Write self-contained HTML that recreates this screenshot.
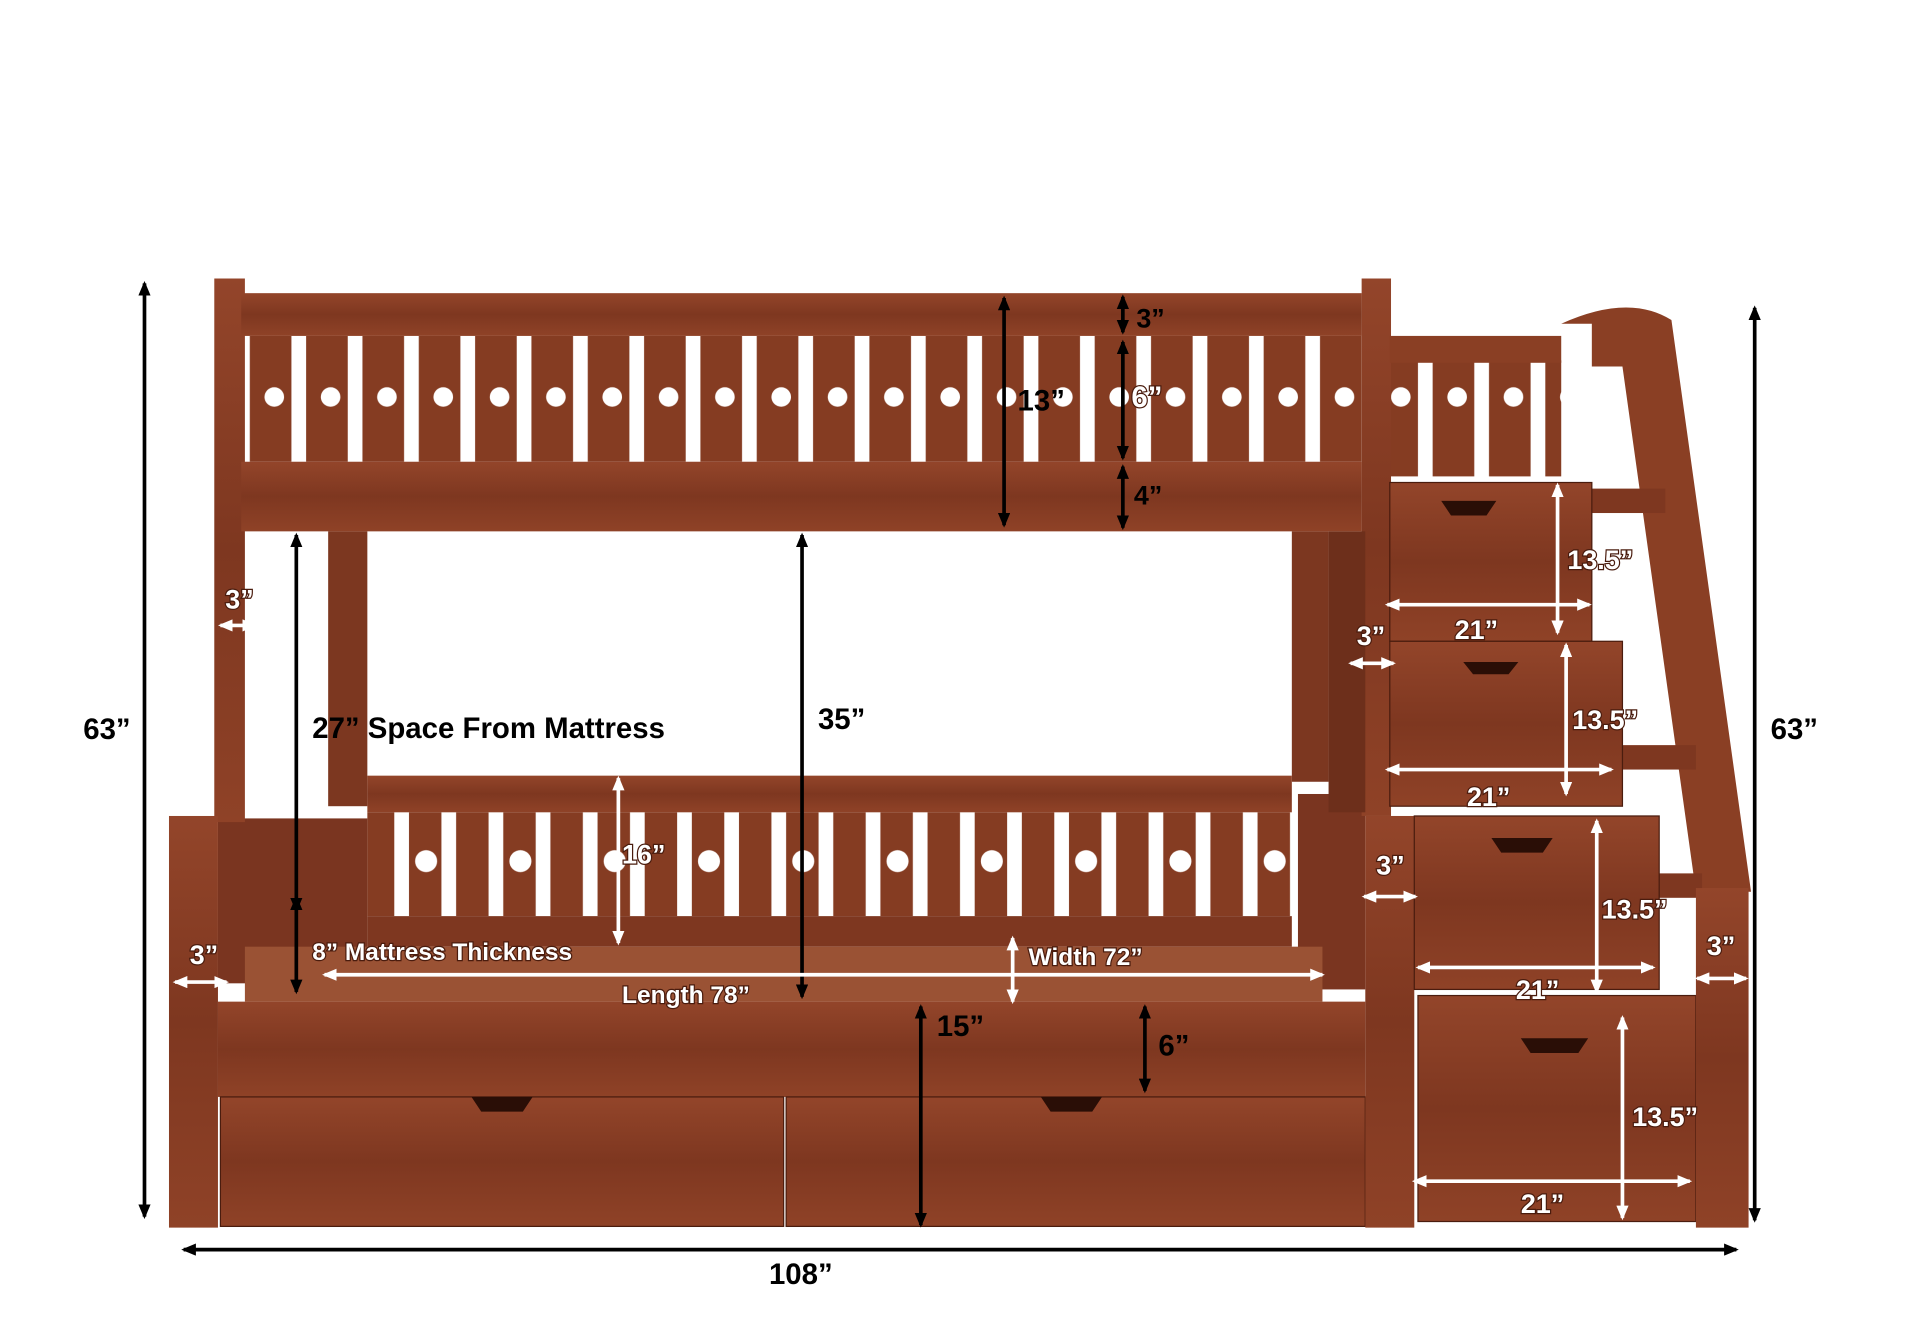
<!DOCTYPE html>
<html><head><meta charset="utf-8"><style>
html,body{margin:0;padding:0;background:#fff;}
svg{display:block;}
text{font-family:"Liberation Sans",sans-serif;font-weight:bold;}
</style></head><body>
<svg width="1920" height="1340" viewBox="0 0 1568 1097" preserveAspectRatio="none" xmlns="http://www.w3.org/2000/svg">
<defs>
<marker id="ab" markerWidth="12" markerHeight="10" refX="10" refY="5" orient="auto-start-reverse" markerUnits="userSpaceOnUse"><path d="M0,0 L12,5 L0,10 z" fill="#000"/></marker>
<marker id="aw" markerWidth="12" markerHeight="10" refX="10" refY="5" orient="auto-start-reverse" markerUnits="userSpaceOnUse"><path d="M0,0 L12,5 L0,10 z" fill="#fff"/></marker>
<linearGradient id="w" x1="0" y1="0" x2="0" y2="1"><stop offset="0" stop-color="#93452a"/><stop offset="0.5" stop-color="#7e3720"/><stop offset="1" stop-color="#8f4227"/></linearGradient>
<pattern id="slU" width="46" height="110" patternUnits="userSpaceOnUse" x="210" y="275"><rect width="46" height="110" fill="#853c22"/><rect x="28" y="0" width="12" height="110" fill="#fff"/><circle cx="14" cy="50" r="8" fill="#fff"/></pattern>
<pattern id="slL" width="38.5" height="90" patternUnits="userSpaceOnUse" x="300" y="665"><rect width="38.5" height="90" fill="#853c22"/><rect x="22" y="0" width="12" height="90" fill="#fff"/></pattern>
<pattern id="slL2" width="77" height="90" patternUnits="userSpaceOnUse" x="300" y="665"><circle cx="48" cy="40" r="9" fill="#fff"/></pattern>
</defs>
<rect width="1568" height="1097" fill="#fff"/>
<rect x="197" y="275" width="915" height="103" fill="url(#slU)"/>
<rect x="1135" y="295" width="140" height="95" fill="url(#slU)"/>
<rect x="300" y="665" width="755" height="85" fill="url(#slL)"/>
<rect x="300" y="665" width="755" height="85" fill="url(#slL2)"/>
<rect x="178" y="670" width="122" height="135" fill="#7a3520"/>
<rect x="1060" y="650" width="55" height="160" fill="#7a3520"/>
<rect x="175" y="228" width="25" height="445" fill="url(#w)"/>
<rect x="1112" y="228" width="24" height="440" fill="url(#w)"/>
<rect x="268" y="435" width="32" height="225" fill="#7c3720"/>
<rect x="1055" y="435" width="30" height="205" fill="#7c3720"/>
<rect x="1085" y="435" width="30" height="230" fill="#6d2f1b"/>
<rect x="197" y="240" width="915" height="35" fill="url(#w)"/>
<rect x="197" y="378" width="915" height="57" fill="url(#w)"/>
<rect x="1135" y="275" width="140" height="22" fill="#8a3f24"/>
<rect x="300" y="635" width="755" height="30" fill="url(#w)"/>
<rect x="300" y="750" width="755" height="25" fill="#7e3720"/>
<rect x="200" y="775" width="880" height="45" fill="#9a5234"/>
<rect x="178" y="820" width="937" height="78" fill="url(#w)"/>
<rect x="180" y="898" width="460" height="106" fill="url(#w)" stroke="#4a1c0e"/>
<rect x="642" y="898" width="473" height="106" fill="url(#w)" stroke="#4a1c0e"/>
<path d="M385,898 h50 l-8,12 h-34z M850,898 h50 l-8,12 h-34z" fill="#2a0e06"/>
<rect x="138" y="668" width="40" height="337" fill="url(#w)"/>
<rect x="1115" y="668" width="40" height="337" fill="url(#w)"/>
<path d="M1275,265 Q1330,240 1365,262 L1430,730 L1385,730 L1325,300 L1300,300 L1300,265z" fill="#8a3f24"/>
<rect x="1300" y="400" width="60" height="20" fill="#7e3720"/>
<rect x="1325" y="610" width="60" height="20" fill="#7e3720"/>
<rect x="1355" y="715" width="35" height="20" fill="#7e3720"/>
<rect x="1135" y="395" width="165" height="130" fill="url(#w)" stroke="#4a1c0e"/>
<rect x="1135" y="525" width="190" height="135" fill="url(#w)" stroke="#4a1c0e"/>
<rect x="1155" y="668" width="200" height="142" fill="url(#w)" stroke="#4a1c0e"/>
<rect x="1158" y="815" width="227" height="185" fill="url(#w)" stroke="#4a1c0e"/>
<rect x="1385" y="727" width="43" height="278" fill="url(#w)"/>
<path d="M1177,410 h45 l-8,12 h-29z M1195,542 h45 l-8,10 h-29z M1218,686 h50 l-8,12 h-34z M1242,850 h55 l-8,12 h-39z" fill="#2a0e06"/>
<g stroke="#000" stroke-width="3" fill="none">
<line x1="118" y1="232" x2="118" y2="996" marker-start="url(#ab)" marker-end="url(#ab)"/>
<line x1="1433" y1="252" x2="1433" y2="999" marker-start="url(#ab)" marker-end="url(#ab)"/>
<line x1="150" y1="1023" x2="1418" y2="1023" marker-start="url(#ab)" marker-end="url(#ab)"/>
<line x1="820" y1="244" x2="820" y2="430" marker-start="url(#ab)" marker-end="url(#ab)"/>
<line x1="917" y1="243" x2="917" y2="272" marker-start="url(#ab)" marker-end="url(#ab)"/>
<line x1="917" y1="280" x2="917" y2="375" marker-start="url(#ab)" marker-end="url(#ab)"/>
<line x1="917" y1="382" x2="917" y2="432" marker-start="url(#ab)" marker-end="url(#ab)"/>
<line x1="242" y1="438" x2="242" y2="745" marker-start="url(#ab)" marker-end="url(#ab)"/>
<line x1="242" y1="735" x2="242" y2="812" marker-start="url(#ab)" marker-end="url(#ab)"/>
<line x1="655" y1="438" x2="655" y2="816" marker-start="url(#ab)" marker-end="url(#ab)"/>
<line x1="752" y1="824" x2="752" y2="1003" marker-start="url(#ab)" marker-end="url(#ab)"/>
<line x1="935" y1="824" x2="935" y2="893" marker-start="url(#ab)" marker-end="url(#ab)"/>
</g>
<g stroke="#fff" stroke-width="3" fill="none">
<line x1="180" y1="512" x2="208" y2="512" marker-start="url(#aw)" marker-end="url(#aw)"/>
<line x1="143" y1="804" x2="185" y2="804" marker-start="url(#aw)" marker-end="url(#aw)"/>
<line x1="505" y1="637" x2="505" y2="772" marker-start="url(#aw)" marker-end="url(#aw)"/>
<line x1="265" y1="798" x2="1080" y2="798" marker-start="url(#aw)" marker-end="url(#aw)"/>
<line x1="827" y1="768" x2="827" y2="820" marker-start="url(#aw)" marker-end="url(#aw)"/>
<line x1="1103" y1="543" x2="1138" y2="543" marker-start="url(#aw)" marker-end="url(#aw)"/>
<line x1="1114" y1="734" x2="1156" y2="734" marker-start="url(#aw)" marker-end="url(#aw)"/>
<line x1="1386" y1="801" x2="1426" y2="801" marker-start="url(#aw)" marker-end="url(#aw)"/>
<line x1="1133" y1="495" x2="1298" y2="495" marker-start="url(#aw)" marker-end="url(#aw)"/>
<line x1="1272" y1="397" x2="1272" y2="518" marker-start="url(#aw)" marker-end="url(#aw)"/>
<line x1="1133" y1="630" x2="1316" y2="630" marker-start="url(#aw)" marker-end="url(#aw)"/>
<line x1="1279" y1="528" x2="1279" y2="650" marker-start="url(#aw)" marker-end="url(#aw)"/>
<line x1="1158" y1="792" x2="1350" y2="792" marker-start="url(#aw)" marker-end="url(#aw)"/>
<line x1="1304" y1="672" x2="1304" y2="812" marker-start="url(#aw)" marker-end="url(#aw)"/>
<line x1="1155" y1="967" x2="1380" y2="967" marker-start="url(#aw)" marker-end="url(#aw)"/>
<line x1="1325" y1="833" x2="1325" y2="997" marker-start="url(#aw)" marker-end="url(#aw)"/>
</g>
<g font-size="24" fill="#000">
<text x="68" y="605">63”</text>
<text x="1446" y="605">63”</text>
<text x="628" y="1051">108”</text>
<text x="831" y="336">13”</text>
<text x="928" y="268" font-size="22">3”</text>
<text x="926" y="413" font-size="22">4”</text>
<text x="255" y="604">27” Space From Mattress</text>
<text x="668" y="597">35”</text>
<text x="765" y="848">15”</text>
<text x="946" y="864">6”</text>
</g>
<g font-size="22" fill="#fff" stroke="#4a1c0e" stroke-width="2" paint-order="stroke">
<text x="924" y="333" font-size="24">6”</text>
<text x="184" y="498">3”</text>
<text x="155" y="789">3”</text>
<text x="508" y="707">16”</text>
<text x="255" y="786" font-size="20">8” Mattress Thickness</text>
<text x="508" y="821" font-size="20">Length 78”</text>
<text x="840" y="790" font-size="20">Width 72”</text>
<text x="1108" y="528">3”</text>
<text x="1124" y="716">3”</text>
<text x="1394" y="782">3”</text>
<text x="1280" y="466">13.5”</text>
<text x="1188" y="523">21”</text>
<text x="1284" y="597">13.5”</text>
<text x="1198" y="660">21”</text>
<text x="1308" y="752">13.5”</text>
<text x="1238" y="818">21”</text>
<text x="1333" y="922">13.5”</text>
<text x="1242" y="993">21”</text>
</g>
</svg>
</body></html>
